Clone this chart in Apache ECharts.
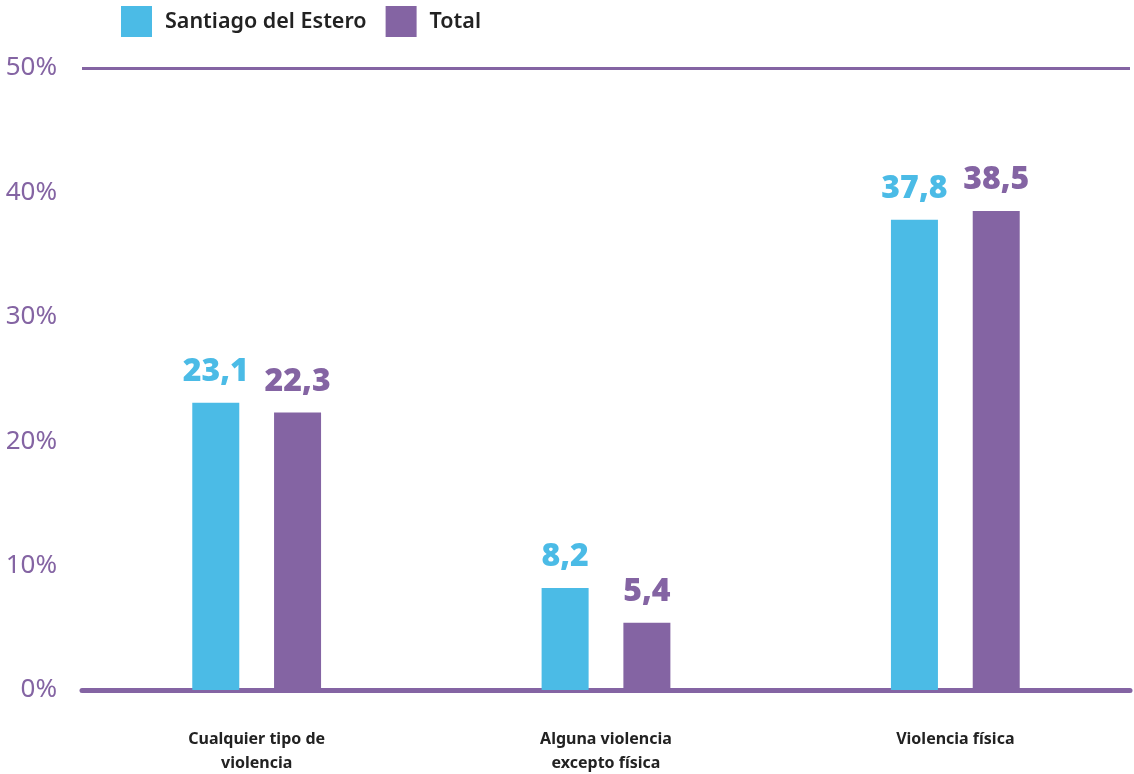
<!DOCTYPE html>
<html>
<head>
<meta charset="utf-8">
<script src="https://cdn.jsdelivr.net/npm/echarts@6/dist/echarts.min.js"></script>
<style>
  html, body { margin: 0; padding: 0; background: #fff; }
  #chart { width: 1134px; height: 774px; }
</style>
</head>
<body>
<div id="chart"></div>
<script>
  var categories = ['Cualquier tipo de\nviolencia', 'Alguna violencia\nexcepto física', 'Violencia física'];
  var seriesNames = ['Santiago del Estero', 'Total'];
  var santiago = [23.1, 8.2, 37.8];
  var total = [22.3, 5.4, 38.5];

  var cyan = '#4bbbe6';
  var purple = '#8464a3';

  var chart = echarts.init(document.getElementById('chart'));

  function valueLabel(color) {
    return {
      show: true,
      position: 'top',
      distance: 15,
      color: color,
      fontFamily: 'Noto Sans',
      fontWeight: 900,
      fontSize: 32,
      formatter: function (p) { return String(p.value).replace('.', ','); }
    };
  }

  var option = {
    animation: false,
    legend: {
      left: 116,
      top: 1,
      itemWidth: 31,
      itemHeight: 31,
      itemGap: 19,
      icon: 'rect',
      data: seriesNames,
      textStyle: {
        fontFamily: 'Noto Sans',
        fontWeight: 600,
        fontSize: 21.5,
        color: '#222',
        padding: [0, 0, 0, 8]
      }
    },
    grid: { left: 82, right: 4, top: 68, bottom: 84, outerBoundsMode: 'none' },
    xAxis: {
      type: 'category',
      data: categories,
      axisLine: { lineStyle: { color: purple, width: 5 } },
      axisTick: { show: false },
      axisLabel: {
        margin: 37,
        color: '#222',
        fontFamily: 'Noto Sans',
        fontWeight: 'bold',
        fontSize: 16,
        lineHeight: 24
      }
    },
    yAxis: {
      type: 'value',
      min: 0,
      max: 50,
      interval: 10,
      axisLine: { show: false },
      axisTick: { show: false },
      axisLabel: {
        formatter: '{value}%',
        color: purple,
        fontFamily: 'Noto Sans',
        fontSize: 26,
        margin: 25
      },
      splitLine: {
        show: true,
        lineStyle: {
          width: 3,
          color: ['rgba(0,0,0,0)', 'rgba(0,0,0,0)', 'rgba(0,0,0,0)', 'rgba(0,0,0,0)', 'rgba(0,0,0,0)', purple]
        }
      }
    },
    series: [
      {
        name: seriesNames[0],
        type: 'bar',
        data: santiago,
        barWidth: 47,
        barGap: '74%',
        itemStyle: { color: cyan },
        label: valueLabel(cyan)
      },
      {
        name: seriesNames[1],
        type: 'bar',
        data: total,
        barWidth: 47,
        itemStyle: { color: purple },
        label: valueLabel(purple)
      }
    ]
  };

  chart.setOption(option);
</script>
</body>
</html>
